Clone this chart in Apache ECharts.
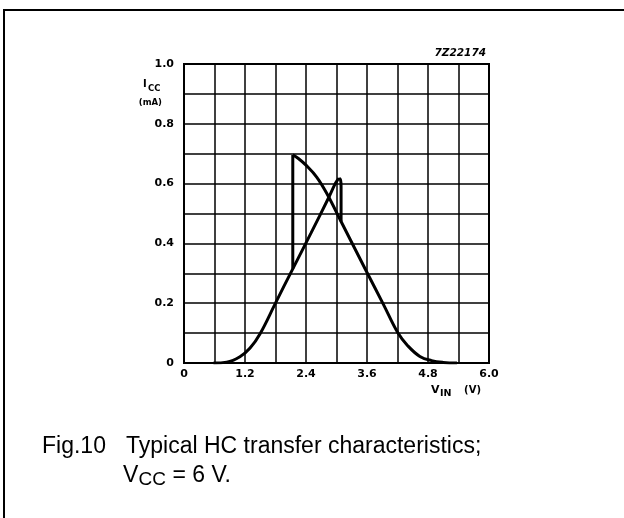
<!DOCTYPE html>
<html>
<head>
<meta charset="utf-8">
<script src="https://cdn.jsdelivr.net/npm/echarts@6/dist/echarts.min.js"></script>
<style>
html,body{margin:0;padding:0;background:#fff;}
#chart{width:624px;height:518px;}
</style>
</head>
<body>
<div id="chart"></div>
<script>
// Rising branch (input going up)
var riseV = [0.58, 0.84, 1.10, 1.30, 1.50, 1.79, 2.14, 2.50, 2.84, 2.97, 3.02, 3.05];
var riseI = [0, 0.003, 0.021, 0.05, 0.099, 0.197, 0.315, 0.435, 0.551, 0.598, 0.612, 0.618];
// Small cap and right vertical step
var capV = [3.05, 3.08, 3.09, 3.09];
var capI = [0.618, 0.612, 0.59, 0.473];
// Left vertical step
var stepV = [2.14, 2.14];
var stepI = [0.315, 0.696];
// Falling branch
var fallV = [2.14, 2.25, 2.41, 2.61, 2.81, 3.10, 3.59, 3.92, 4.21, 4.40, 4.64, 4.87, 5.10, 5.37];
var fallI = [0.696, 0.684, 0.660, 0.622, 0.567, 0.470, 0.306, 0.197, 0.100, 0.058, 0.022, 0.008, 0.002, 0];
// Tick labels
var xTickLabels = ['0', '1.2', '2.4', '3.6', '4.8', '6.0'];
var yTickLabels = ['0', '0.2', '0.4', '0.6', '0.8', '1.0'];

function pairs(xs, ys) { return xs.map(function (x, i) { return [x, ys[i]]; }); }

var chart = echarts.init(document.getElementById('chart'), null, {renderer: 'canvas'});
var lineStyle = {color: '#000', width: 3};
var tickFont = {fontFamily: 'DejaVu Sans', fontWeight: 'bold', fontSize: 11, color: '#000'};
var bold = function (t, x, y, size, align) {
  return {type: 'text', x: x, y: y, style: {text: t, fontFamily: 'DejaVu Sans', fontWeight: 'bold', fontSize: size, fill: '#000', align: align || 'left', verticalAlign: 'middle'}};
};
var cap = function (t, x, y, size) {
  return {type: 'text', x: x, y: y, style: {text: t, fontFamily: 'Liberation Sans', fontSize: size, fill: '#000', align: 'left', verticalAlign: 'middle'}};
};

var option = {
  backgroundColor: '#fff',
  animation: false,
  grid: {left: 184, right: 135, top: 64, bottom: 155, show: true, borderColor: '#000', borderWidth: 2},
  xAxis: {
    type: 'value', min: 0, max: 6, interval: 0.6,
    axisLine: {show: true, lineStyle: {color: '#000', width: 2}},
    axisTick: {show: false},
    splitLine: {show: true, lineStyle: {color: '#000', width: 1.5}},
    axisLabel: Object.assign({margin: 6, formatter: function (v) {
      var k = Math.round(v / 0.6);
      return k % 2 ? '' : xTickLabels[k / 2];
    }}, tickFont)
  },
  yAxis: {
    type: 'value', min: 0, max: 1, interval: 0.1,
    axisLine: {show: true, lineStyle: {color: '#000', width: 2}},
    axisTick: {show: false},
    splitLine: {show: true, lineStyle: {color: '#000', width: 1.5}},
    axisLabel: Object.assign({margin: 10, formatter: function (v) {
      var k = Math.round(v * 10);
      return k % 2 ? '' : yTickLabels[k / 2];
    }}, tickFont)
  },
  series: [
    {type: 'line', data: pairs(riseV, riseI), smooth: 0.4, symbol: 'none', lineStyle: lineStyle},
    {type: 'line', data: pairs(capV, capI), smooth: 0.3, symbol: 'none', lineStyle: lineStyle},
    {type: 'line', data: pairs(stepV, stepI), symbol: 'none', lineStyle: lineStyle},
    {type: 'line', data: pairs(fallV, fallI), smooth: 0.4, symbol: 'none', lineStyle: lineStyle}
  ],
  graphic: [
    {type: 'rect', shape: {x: 4, y: 10, width: 800, height: 800}, style: {fill: 'none', stroke: '#000', lineWidth: 2}},
    {type: 'text', x: 486, y: 53, style: {text: '7Z22174', fontFamily: 'DejaVu Sans', fontWeight: 'bold', fontStyle: 'italic', fontSize: 10.5, fill: '#000', align: 'right', verticalAlign: 'middle'}},
    // y-axis title
    bold('I', 143, 84, 10),
    bold('CC', 148, 89, 8.5),
    bold('(mA)', 162, 103, 8.5, 'right'),
    // x-axis title
    bold('V', 431, 390, 11),
    bold('IN', 440, 394, 9.5),
    bold('(V)', 481, 390, 10, 'right'),
    // caption
    cap('Fig.10', 42, 447, 23),
    cap('Typical HC transfer characteristics;', 126, 447, 23),
    cap('V', 123, 476, 23),
    cap('CC', 138.5, 480, 19),
    cap(' = 6 V.', 166, 476, 23)
  ]
};
chart.setOption(option);
</script>
</body>
</html>
